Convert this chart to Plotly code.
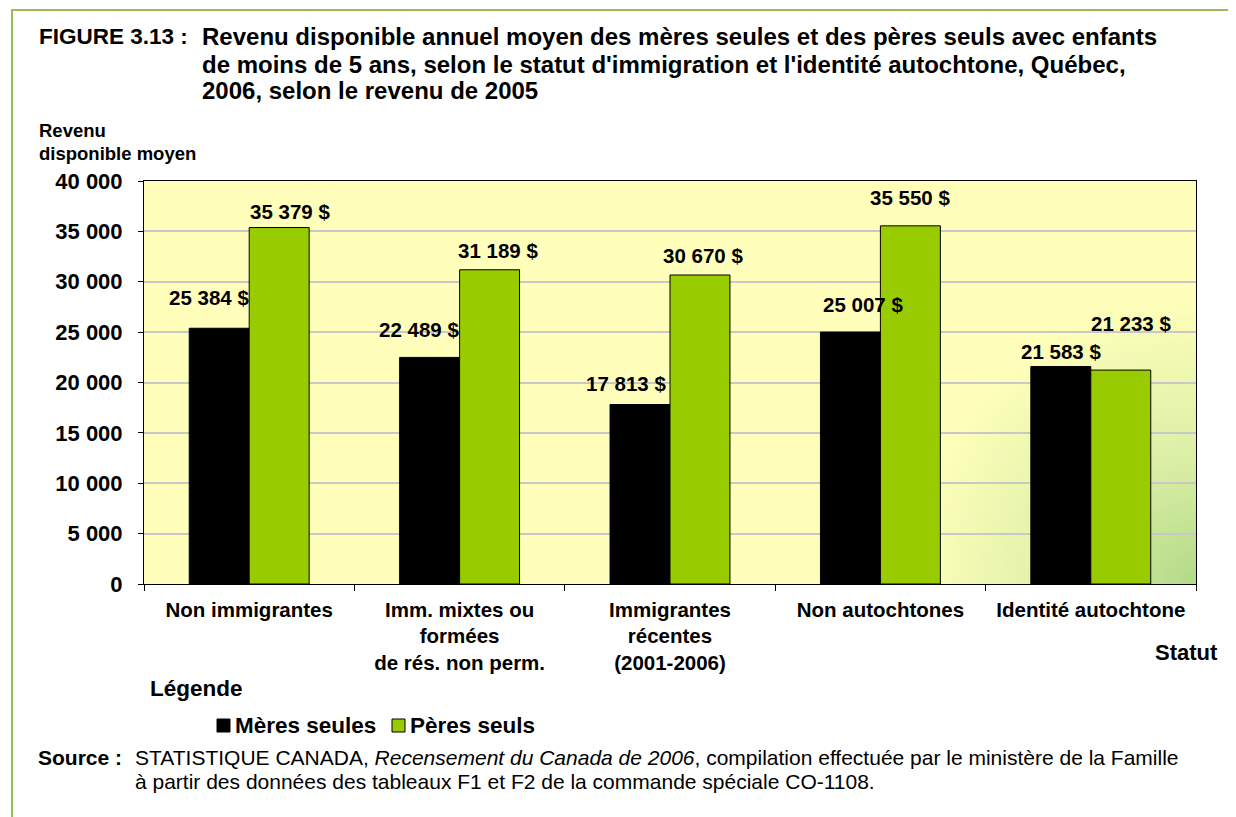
import base64
import plotly.graph_objects as go

# Data
categories = ["Non immigrantes", "Imm. mixtes ou<br>formées<br>de rés. non perm.",
              "Immigrantes<br>récentes<br>(2001-2006)", "Non autochtones", "Identité autochtone"]
meres = [25384, 22489, 17813, 25007, 21583]
peres = [35379, 31189, 30670, 35550, 21233]
ytick_vals = [0, 5000, 10000, 15000, 20000, 25000, 30000, 35000, 40000]
ytick_text = ["0", "5 000", "10 000", "15 000", "20 000", "25 000", "30 000", "35 000", "40 000"]
series_names = ["Mères seules", "Pères seuls"]
series_colors = ["#000000", "#99CC00"]

title_lines = ["Revenu disponible annuel moyen des mères seules et des pères seuls avec enfants",
               "de moins de 5 ans, selon le statut d'immigration et l'identité autochtone, Québec,",
               "2006, selon le revenu de 2005"]
source_lines = ["STATISTIQUE CANADA, <i>Recensement du Canada de 2006</i>, compilation effectuée par le ministère de la Famille",
                "à partir des données des tableaux F1 et F2 de la commande spéciale CO-1108."]

# label offsets (pixels) to mimic the hand-placed labels of the original
meres_shift = [(-10, 31), (-11, 28), (-14, 21), (13, 28), (0, 15)]
peres_shift = [(11, 16), (8, 19), (3, 20), (0, 28), (10, 47)]

FONT = "Liberation Sans, Arial, sans-serif"
# plot area on screen (page has an 8px body margin)
X0, X1, Y0, Y1 = 144, 1196, 181, 584
W, H = 1228, 809
PW, PH = X1 - X0, Y1 - Y0


def px(x):
    return (x - X0) / PW


def py(y):
    return (Y1 - y) / PH


def fmt(v):
    return f"{v:,}".replace(",", " ") + " $"


def label(x, y, text, size, anchor="left", bold=True):
    return dict(x=px(x), y=py(y), xref="paper", yref="paper", xanchor=anchor, yanchor="middle",
                text=text, showarrow=False,
                font=dict(size=size, family=FONT, color="black", weight="bold" if bold else "normal"))


fig = go.Figure()
fig.add_trace(go.Bar(name=series_names[0], x=categories, y=meres,
                     marker=dict(color=series_colors[0], line=dict(color="#000000", width=1))))
fig.add_trace(go.Bar(name=series_names[1], x=categories, y=peres,
                     marker=dict(color=series_colors[1], line=dict(color="#000000", width=1))))

annotations = []
for i, c in enumerate(categories):
    for vals, shifts, off in ((meres, meres_shift, -0.5), (peres, peres_shift, 0.5)):
        annotations.append(dict(x=i + off * 0.285, y=vals[i], xref="x", yref="y",
                                text=fmt(vals[i]), showarrow=False,
                                xshift=shifts[i][0], yshift=shifts[i][1],
                                font=dict(size=20.5, color="black", family=FONT, weight="bold")))

annotations.append(label(37, 37, "FIGURE 3.13 :", 22.5))
for k, line in enumerate(title_lines):
    annotations.append(label(200, 37 + 27 * k, line, 24))
annotations.append(label(37, 130, "Revenu", 18.5))
annotations.append(label(37, 153, "disponible moyen", 18.5))
annotations.append(label(1220, 652, "Statut", 22, anchor="right"))
annotations.append(label(148, 688, "Légende", 22.5))
annotations.append(label(36, 757, "Source :", 21))
for k, line in enumerate(source_lines):
    annotations.append(label(133, 757 + 24 * k, line, 21, bold=False))

# custom legend: small squares + names
shapes = []
legend_x = [217, 392]
for k, name in enumerate(series_names):
    shapes.append(dict(type="rect", xref="paper", yref="paper",
                       x0=px(legend_x[k]), x1=px(legend_x[k] + 13), y0=py(732), y1=py(719),
                       fillcolor=series_colors[k], line=dict(color="black", width=1)))
    annotations.append(label(legend_x[k] + 16, 725, name, 22.5))

# page frame
shapes.append(dict(type="rect", xref="paper", yref="paper", x0=px(12), x1=px(1300), y0=py(10), y1=py(900),
                   line=dict(color="#9bbb59", width=2), fillcolor="rgba(0,0,0,0)", layer="below"))

# plot background: pale yellow with a green glow in the lower right corner
svg = f"""<svg xmlns='http://www.w3.org/2000/svg' width='{PW}' height='{PH}' viewBox='0 0 {PW} {PH}' preserveAspectRatio='none'>
<defs><radialGradient id='g' gradientUnits='userSpaceOnUse' cx='{PW}' cy='{PH}' r='290'>
<stop offset='0' stop-color='#b2da88'/><stop offset='0.45' stop-color='#dcefa6'/><stop offset='1' stop-color='#ffffbb'/>
</radialGradient></defs>
<rect width='{PW}' height='{PH}' fill='#ffffbb'/>
<rect width='{PW}' height='{PH}' fill='url(#g)'/></svg>"""
bg_src = "data:image/svg+xml;base64," + base64.b64encode(svg.encode()).decode()

fig.update_layout(
    width=W, height=H,
    margin=dict(l=X0 - 8, r=W - (X1 - 8), t=Y0 - 8, b=H - (Y1 - 8), autoexpand=False),
    paper_bgcolor="white", plot_bgcolor="#ffffbb",
    font=dict(family=FONT, color="black"),
    barmode="group", bargap=0.43, bargroupgap=0,
    showlegend=False,
    annotations=annotations,
    images=[dict(source=bg_src, xref="paper", yref="paper", x=0, y=1, sizex=1, sizey=1,
                 sizing="stretch", xanchor="left", yanchor="top", layer="below")],
    shapes=shapes,
)
fig.update_xaxes(showline=True, linecolor="black", linewidth=1, mirror=True,
                 ticks="outside", tickson="boundaries", ticklen=6, tickcolor="black",
                 ticklabelstandoff=7,
                 tickfont=dict(size=20.5, family=FONT, color="black", weight="bold"),
                 showgrid=False)
fig.update_yaxes(range=[0, 40000], tickvals=ytick_vals, ticktext=ytick_text,
                 showline=True, linecolor="black", linewidth=1, mirror=True,
                 ticks="outside", ticklen=5, tickcolor="black", ticklabelstandoff=11,
                 tickfont=dict(size=22, family=FONT, color="black", weight="bold"),
                 showgrid=True, gridcolor="#c8c8c8", gridwidth=1.5, zeroline=False)

fig.write_html("out.html")
